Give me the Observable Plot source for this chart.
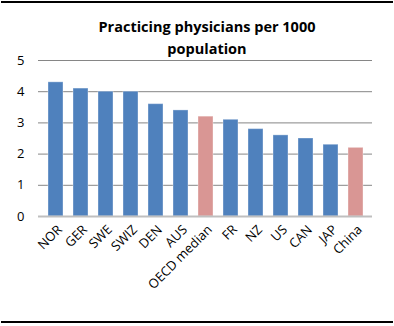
<!DOCTYPE html>
<html>
<head>
<meta charset="utf-8">
<script src="https://cdn.jsdelivr.net/npm/d3@7"></script>
<script src="https://cdn.jsdelivr.net/npm/@observablehq/plot@0.6"></script>
<style>
  html, body { margin: 0; padding: 0; background: #fff; }
  #wrap { position: relative; width: 394px; height: 326px; overflow: hidden; font-family: "Open Sans", sans-serif; }
  .rule { position: absolute; left: 1px; width: 392px; height: 2px; background: #000; }
  #title { position: absolute; top: 16px; left: 0; width: 414px; text-align: center; font-weight: bold; font-size: 14.5px; line-height: 22px; color: #000; }
  #chart { position: absolute; top: 0; left: 0; }
</style>
</head>
<body>
<div id="wrap">
  <div class="rule" style="top:1px"></div>
  <div class="rule" style="top:321px"></div>
  <div id="chart"></div>
  <div id="title">Practicing physicians per 1000<br>population</div>
</div>
<script>
const countries = ["NOR", "GER", "SWE", "SWIZ", "DEN", "AUS", "OECD median", "FR", "NZ", "US", "CAN", "JAP", "China"];
const physicians = [4.3, 4.1, 4.0, 4.0, 3.6, 3.4, 3.2, 3.1, 2.8, 2.6, 2.5, 2.3, 2.2];
const highlighted = ["OECD median", "China"];
const yTicks = [0, 1, 2, 3, 4, 5];

const data = countries.map((c, i) => ({country: c, value: physicians[i], group: highlighted.includes(c) ? "highlight" : "country"}));

const chart = Plot.plot({
  width: 394,
  height: 326,
  marginTop: 60,
  marginBottom: 110,
  marginLeft: 38,
  marginRight: 22,
  style: {fontFamily: "Open Sans, sans-serif", fontSize: "12px", color: "#000", background: "transparent"},
  x: {domain: countries, paddingInner: 0.42, paddingOuter: 0.21, label: null},
  y: {domain: [0, 5], ticks: yTicks, label: null},
  color: {domain: ["country", "highlight"], range: ["#4F81BD", "#D99694"]},
  marks: [
    Plot.gridY(yTicks.filter(d => d > 0), {stroke: "#868686", strokeOpacity: 1, strokeWidth: 1}),
    Plot.barY(data, {x: "country", y: "value", fill: "group", stroke: "#ffffff", strokeOpacity: 0.35, strokeWidth: 1}),
    Plot.ruleY([0], {stroke: "#BFBFBF", strokeWidth: 2}),
    Plot.axisY({ticks: yTicks, tickFormat: "d", tickSize: 0, tickPadding: 14, fontSize: 13, label: null}),
    Plot.axisX({tickSize: 0, tickPadding: 11, tickRotate: -45, fontSize: 13, dx: 4, label: null})
  ]
});
document.getElementById("chart").appendChild(chart);
</script>
</body>
</html>
